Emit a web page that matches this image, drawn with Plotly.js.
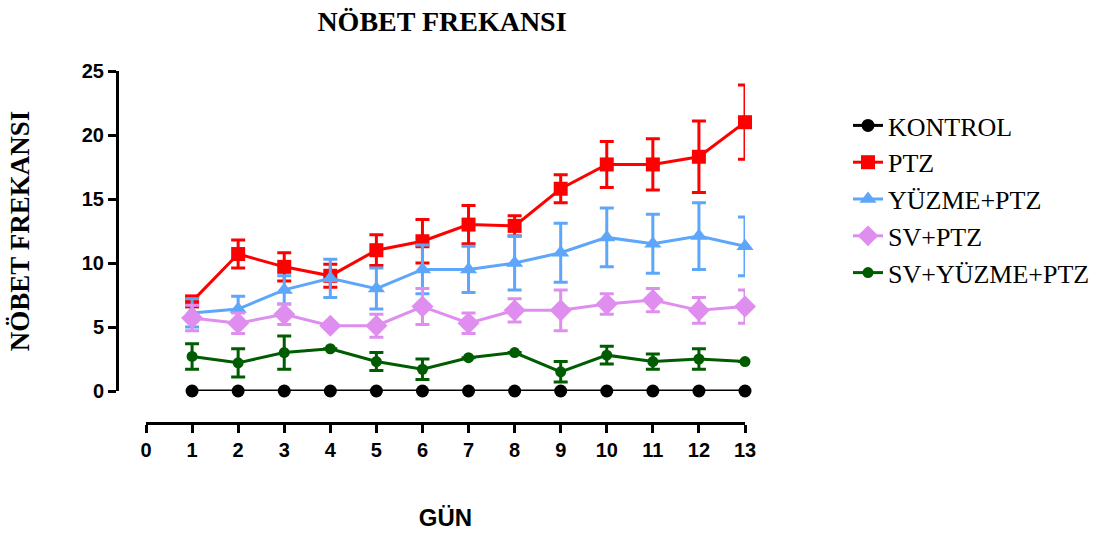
<!DOCTYPE html>
<html>
<head>
<meta charset="utf-8">
<script src="https://cdn.plot.ly/plotly-3.0.1.min.js"></script>
<style>html,body{margin:0;padding:0;background:#fff;}#chart{width:1104px;height:534px;}</style>
</head>
<body>
<div id="chart"></div>
<script>
// ---- data ----
const days = [1,2,3,4,5,6,7,8,9,10,11,12,13];
const seriesNames = ["KONTROL","PTZ","YÜZME+PTZ","SV+PTZ","SV+YÜZME+PTZ"];
const kontrol    = [0,0,0,0,0,0,0,0,0,0,0,0,0];
const ptz        = [7.0,10.7,9.7,9.0,11.0,11.7,13.0,12.9,15.8,17.7,17.7,18.3,21.0];
const ptzErr     = [0.3,1.1,1.1,0.9,1.2,1.7,1.5,0.8,1.1,1.8,2.0,2.8,2.9];
const yuzme      = [6.1,6.4,7.9,8.8,8.0,9.5,9.5,10.0,10.8,12.0,11.5,12.1,11.3];
const yuzmeErr   = [1.1,1.0,1.1,1.5,1.6,1.9,1.8,2.1,2.3,2.3,2.3,2.6,2.3];
const sv         = [5.7,5.3,6.0,5.1,5.1,6.6,5.3,6.3,6.3,6.8,7.1,6.3,6.6];
const svErr      = [1.0,0.8,0.8,null,0.9,1.4,0.8,0.9,1.6,0.8,0.9,1.0,1.3];
const svYuzme    = [2.7,2.2,3.0,3.3,2.3,1.7,2.6,3.0,1.5,2.8,2.3,2.5,2.3];
const svYuzmeErr = [1.0,1.1,1.3,null,0.7,0.8,null,null,0.8,0.7,0.6,0.8,null];
const xTicks = [0,1,2,3,4,5,6,7,8,9,10,11,12,13];
const yTicks = [0,5,10,15,20,25];

// ---- styles ----
const colors = ["#000000","#ff0000","#5ea6fa","#df8ef0","#005c00"];
const symbols = ["circle","square","triangle-up","diamond","circle"];
const sizes = [13,14,15,17,11];

function trace(i, y, err){
  const t = {
    x: days, y: y, name: seriesNames[i], type: "scatter", mode: "lines+markers",
    legendgroup: "g"+i,
    line: {color: colors[i], width: 3},
    marker: {color: colors[i], symbol: symbols[i], size: sizes[i]},
    cliponaxis: false
  };
  if (err) t.error_y = {type: "data", array: err, visible: true, color: colors[i], thickness: 3, width: 7};
  return t;
}

const data = [
  trace(0, kontrol, null),
  trace(1, ptz, ptzErr),
  trace(2, yuzme, yuzmeErr),
  trace(3, sv, svErr),
  trace(4, svYuzme, svYuzmeErr)
];

const serif = "Liberation Serif, Times New Roman, serif";
const sans = "Liberation Sans, Arial, sans-serif";

const layout = {
  width: 1104, height: 534,
  margin: {l: 117, r: 359, t: 71, b: 111, autoexpand: false},
  paper_bgcolor: "#fff", plot_bgcolor: "#fff",
  showlegend: true,
  title: {text: "<b>NÖBET FREKANSI</b>", font: {family: serif, size: 28, color: "#000"},
          xref: "paper", x: 0.5175, xanchor: "center", yref: "container", y: 1 - 21/534, yanchor: "middle"},
  xaxis: {
    range: [0, 13], domain: [29/628, 1], anchor: "free", position: 0,
    tickmode: "array", tickvals: xTicks, ticktext: xTicks.map(String),
    ticks: "outside", ticklen: 8, tickwidth: 3, tickcolor: "#000",
    showline: true, linewidth: 3, linecolor: "#000",
    showgrid: false, zeroline: false, automargin: false,
    tickfont: {family: sans, size: 20, color: "#000", weight: "bold"},
    title: {text: "<b>GÜN</b>", font: {family: sans, size: 24, color: "#000"}, standoff: 49}
  },
  yaxis: {
    range: [0, 25], domain: [32/352, 1], anchor: "free", position: 0,
    tickmode: "array", tickvals: yTicks, ticktext: yTicks.map(String),
    ticks: "outside", ticklen: 8, tickwidth: 3, tickcolor: "#000",
    showline: true, linewidth: 3, linecolor: "#000",
    showgrid: false, zeroline: false, automargin: false,
    tickfont: {family: sans, size: 20, color: "#000", weight: "bold"},
    title: {text: "<b>NÖBET FREKANSI</b>", font: {family: serif, size: 27, color: "#000"}, standoff: 43}
  },
  legend: {
    x: (848-117)/628, xanchor: "left", y: (423-102)/352, yanchor: "top",
    traceorder: "grouped", tracegroupgap: 0,
    font: {family: serif, size: 26, color: "#000"},
    bgcolor: "rgba(0,0,0,0)", borderwidth: 0
  }
};

Plotly.newPlot("chart", data, layout, {displayModeBar: false, staticPlot: true});
</script>
</body>
</html>
